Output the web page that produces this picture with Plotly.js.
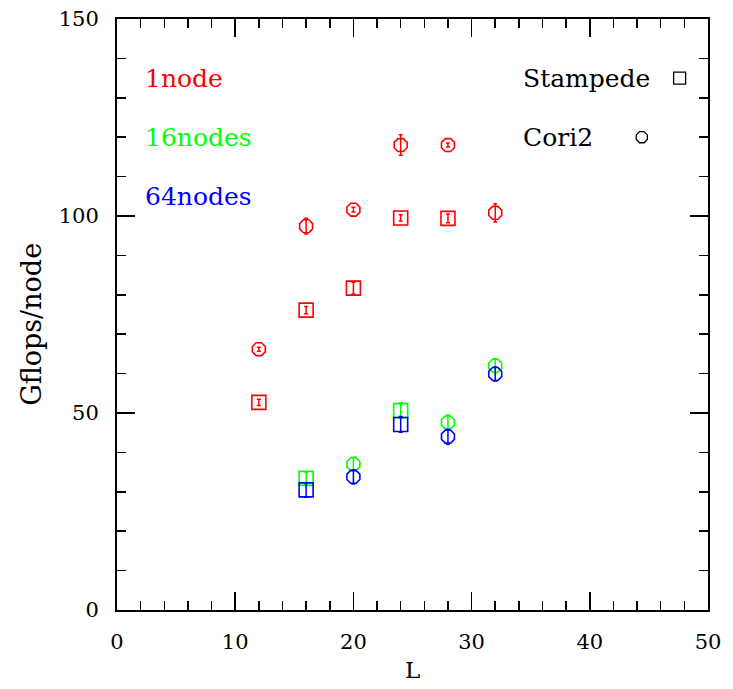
<!DOCTYPE html>
<html>
<head>
<meta charset="utf-8">
<script src="https://cdn.plot.ly/plotly-3.0.1.min.js"></script>
<style>
  html, body { margin: 0; padding: 0; background: #fff; }
  #chart { width: 733px; height: 689px; }
</style>
</head>
<body>
<div id="chart"></div>
<script>
// Lattice size L and sustained performance (Gflops/node) with uncertainties
const stampede1L   = [12, 16, 20, 24, 28];
const stampede1Gf  = [52.7, 76.1, 81.7, 99.5, 99.4];
const stampede1Err = [0.8, 0.9, 1.5, 0.8, 1.1];

const cori1L   = [12, 16, 20, 24, 28, 32];
const cori1Gf  = [66.2, 97.4, 101.6, 118.0, 118.0, 100.8];
const cori1Err = [0.5, 2.0, 0.6, 2.6, 0.5, 2.3];

const stampede16L   = [16, 24];
const stampede16Gf  = [33.4, 50.6];
const stampede16Err = [1.6, 2.0];

const cori16L   = [20, 28, 32];
const cori16Gf  = [37.0, 47.6, 62.0];
const cori16Err = [1.8, 1.9, 1.8];

const stampede64L   = [16, 24];
const stampede64Gf  = [30.5, 47.1];
const stampede64Err = [1.8, 2.0];

const cori64L   = [20, 28, 32];
const cori64Gf  = [33.8, 44.0, 59.9];
const cori64Err = [1.8, 1.9, 1.8];

const RED = '#ff0000', GREEN = '#00ff00', BLUE = '#0000ff';
const FONT = 'DejaVu Serif, Liberation Serif, serif';

function series(x, y, err, color, symbol) {
  return {
    type: 'scatter', mode: 'markers', x: x, y: y,
    marker: { symbol: symbol, size: 14, color: color, line: { color: color, width: 1.6 } },
    error_y: { type: 'data', array: err, visible: true, color: color, thickness: 1.5, width: 2 },
    showlegend: false, hoverinfo: 'x+y'
  };
}

const SQ = 'square-open', CI = 'octagon-open';
const traces = [
  series(stampede1L, stampede1Gf, stampede1Err, RED, SQ),
  series(cori1L, cori1Gf, cori1Err, RED, CI),
  series(stampede16L, stampede16Gf, stampede16Err, GREEN, SQ),
  series(cori16L, cori16Gf, cori16Err, GREEN, CI),
  series(stampede64L, stampede64Gf, stampede64Err, BLUE, SQ),
  series(cori64L, cori64Gf, cori64Err, BLUE, CI),
  // machine key symbols
  { type: 'scatter', mode: 'markers', x: [47.6], y: [135], showlegend: false, hoverinfo: 'skip',
    marker: { symbol: 'square-open', size: 12, color: '#000', line: { color: '#000', width: 1.3 } } },
  { type: 'scatter', mode: 'markers', x: [44.4], y: [120], showlegend: false, hoverinfo: 'skip',
    marker: { symbol: 'octagon-open', size: 12, color: '#000', line: { color: '#000', width: 1.3 } } }
];

function label(text, x, y, color) {
  return { text: text, x: x, y: y, xref: 'x', yref: 'y', xanchor: 'left', yanchor: 'middle',
           showarrow: false, font: { family: FONT, size: 25, color: color } };
}

const axisCommon = {
  showline: true, linecolor: '#000', linewidth: 2, mirror: 'ticks',
  ticks: 'inside', ticklen: 18, tickwidth: 1.5, tickcolor: '#000',
  showgrid: false, zeroline: false,
  tickfont: { family: FONT, size: 21, color: '#000' }
};

const layout = {
  width: 733, height: 689,
  margin: { l: 117, r: 25, t: 19, b: 79 },
  paper_bgcolor: '#fff', plot_bgcolor: '#fff',
  xaxis: Object.assign({}, axisCommon, {
    range: [0, 50], dtick: 10, tick0: 0, ticklabelstandoff: 12,
    minor: { dtick: 2, ticks: 'inside', ticklen: 9, tickwidth: 1.5, tickcolor: '#000' }
  }),
  yaxis: Object.assign({}, axisCommon, {
    range: [0, 150], dtick: 50, tick0: 0, ticklabelstandoff: 12,
    minor: { dtick: 10, ticks: 'inside', ticklen: 9, tickwidth: 1.5, tickcolor: '#000' }
  }),
  annotations: [
    label('1node', 2.2, 135, RED),
    label('16nodes', 2.2, 120, GREEN),
    label('64nodes', 2.2, 105, BLUE),
    label('Stampede', 34.2, 135, '#000'),
    label('Cori2', 34.2, 120, '#000'),
    // axis titles
    { text: 'L', xref: 'paper', yref: 'paper', x: 0.5, y: -0.102, xanchor: 'center', yanchor: 'middle',
      showarrow: false, font: { family: FONT, size: 23, color: '#000' } },
    { text: 'Gflops/node', xref: 'paper', yref: 'paper', x: -0.145, y: 0.483, xanchor: 'center', yanchor: 'middle',
      textangle: -90, showarrow: false, font: { family: FONT, size: 27, color: '#000' } }
  ]
};

Plotly.newPlot('chart', traces, layout, { displayModeBar: false, staticPlot: true });
</script>
</body>
</html>
